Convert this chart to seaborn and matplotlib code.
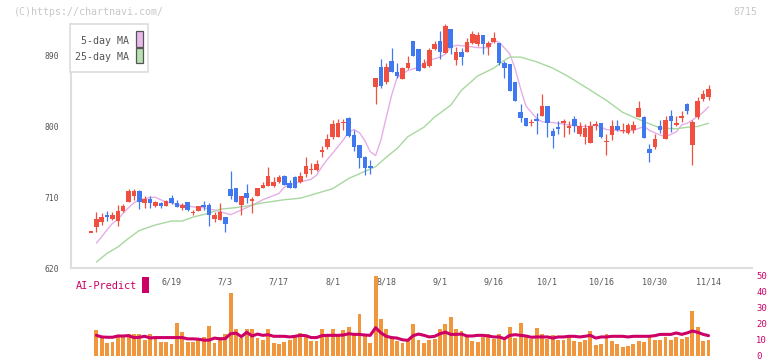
import matplotlib
matplotlib.use("Agg")
import matplotlib.pyplot as plt
import matplotlib.patches as mpatches
import seaborn as sns
import numpy as np

# daily candles (index 0 .. 115)
opens = [666, 673, 679, 688, 683, 680, 693, 704, 712, 718, 703, 708, 699, 703, 699, 709, 703, 696, 704, 690,
         693, 700, 700, 682, 681, 685, 721, 722, 700, 716, 705, 712, 722, 725, 725, 729, 737, 728, 736, 730,
         740, 745, 745, 767, 774, 787, 787, 804, 811, 789, 777, 761, 749, 850, 875, 857, 883, 869, 860, 874,
         909, 898, 874, 877, 898, 909, 893, 924, 884, 894, 895, 906, 904, 916, 901, 907, 906, 881, 879, 856,
         818, 811, 804, 810, 813, 826, 794, 799, 805, 798, 809, 790, 787, 779, 800, 804, 780, 789, 801, 794,
         792, 796, 812, 812, 771, 774, 800, 784, 813, 802, 811, 828, 777, 812, 835, 838]
highs = [666, 691, 690, 693, 692, 700, 702, 721, 721, 719, 712, 712, 706, 704, 707, 713, 707, 703, 704, 694,
         699, 706, 703, 691, 703, 685, 744, 722, 712, 727, 711, 722, 729, 748, 736, 739, 739, 732, 737, 742,
         761, 753, 757, 775, 791, 808, 809, 809, 812, 795, 777, 763, 757, 862, 885, 881, 900, 880, 876, 890,
         909, 898, 886, 899, 909, 921, 930, 924, 901, 899, 912, 921, 920, 916, 909, 920, 906, 883, 879, 856,
         828, 811, 809, 817, 841, 826, 798, 807, 809, 807, 813, 806, 803, 807, 807, 804, 791, 808, 808, 805,
         805, 807, 832, 813, 778, 791, 808, 813, 821, 813, 820, 830, 808, 838, 846, 852]
lows = [666, 666, 675, 680, 681, 674, 692, 704, 707, 695, 697, 697, 698, 697, 699, 701, 698, 694, 693, 687,
        693, 694, 674, 679, 681, 666, 708, 704, 687, 703, 690, 712, 722, 725, 723, 728, 726, 722, 722, 728,
        736, 740, 744, 761, 772, 784, 787, 795, 787, 769, 747, 739, 740, 828, 849, 854, 869, 862, 860, 873,
        889, 870, 874, 875, 897, 886, 893, 892, 878, 878, 894, 905, 902, 892, 891, 906, 878, 862, 845, 832,
        806, 800, 801, 790, 813, 786, 773, 790, 787, 791, 793, 788, 778, 779, 795, 785, 764, 783, 794, 792,
        791, 792, 812, 785, 755, 771, 792, 784, 793, 800, 806, 816, 751, 810, 832, 834]
closes = [666, 682, 685, 685, 688, 693, 699, 718, 718, 704, 708, 703, 704, 699, 705, 703, 698, 700, 694, 691,
          699, 698, 688, 688, 691, 676, 712, 704, 712, 709, 708, 722, 726, 737, 730, 736, 726, 722, 722, 737,
          750, 746, 752, 770, 784, 803, 805, 805, 788, 774, 760, 747, 748, 862, 851, 875, 869, 864, 874, 881,
          890, 870, 881, 897, 904, 894, 927, 900, 894, 888, 907, 917, 916, 904, 906, 912, 880, 874, 845, 832,
          811, 801, 805, 807, 826, 804, 788, 797, 807, 800, 801, 800, 798, 800, 803, 786, 781, 800, 796, 795,
          802, 802, 824, 785, 766, 784, 795, 808, 807, 805, 813, 820, 806, 832, 841, 847]

# moving averages
ma5_idx = [1, 2, 3, 4, 5, 6, 7, 8, 9, 10, 11, 12, 13, 14, 15, 16, 17, 18, 19, 20, 21, 22, 23, 24, 25, 26,
           28, 30, 32, 35, 36, 38, 41, 42, 43, 44, 45, 47, 48, 49, 50, 51, 52, 53, 54, 55, 56, 57, 59, 61,
           63, 65, 66, 67, 68, 70, 72, 74, 75, 76, 78, 79, 80, 81, 83, 84, 86, 87, 89, 91, 93, 94, 96, 98,
           99, 101, 103, 104, 106, 107, 109, 110, 111, 112, 114, 115]
ma5_val = [652, 660, 669, 677, 682, 690, 697, 703, 707, 708, 710, 710, 707, 704, 703, 701, 700, 699, 698, 697,
           697, 695, 694, 692, 690, 688, 694, 700, 707, 715, 723, 728, 733, 738, 749, 758, 766, 783, 793, 796,
           792, 782, 768, 763, 783, 812, 840, 862, 871, 875, 884, 888, 892, 901, 903, 902, 900, 900, 909, 907,
           892, 873, 848, 826, 810, 806, 805, 804, 802, 800, 800, 802, 796, 795, 794, 795, 800, 795, 789, 787,
           793, 802, 804, 808, 818, 825]
ma25_idx = [1, 3, 5, 7, 9, 12, 15, 17, 19, 22, 24, 27, 29, 32, 34, 36, 39, 41, 45, 48, 53, 55, 57, 59, 62,
            64, 67, 69, 72, 75, 77, 78, 80, 83, 86, 89, 93, 96, 99, 103, 106, 109, 111, 113, 115]
ma25_val = [628, 639, 647, 658, 668, 675, 680, 680, 685, 690, 695, 697, 699, 703, 705, 707, 709, 713, 721, 734,
            749, 761, 772, 787, 799, 812, 827, 846, 864, 874, 884, 888, 888, 882, 874, 863, 846, 833, 818, 806,
            798, 797, 799, 800, 804]

# lower panel (index 1 .. 115)
volume = [16.1, 11.6, 7.8, 8.4, 12.2, 11.6, 13.6, 13.2, 13.2, 9.9, 13.2, 11.6, 8.4, 8.4, 7.0, 20.3, 14.7, 8.4,
          8.4, 9.9, 11.6, 18.2, 7.8, 11.6, 13.6, 39.1, 16.8, 11.2, 16.8, 16.8, 11.2, 9.5, 16.8, 7.8, 7.4, 8.4,
          9.5, 11.6, 14.1, 11.6, 9.1, 9.1, 16.8, 12.6, 16.8, 12.2, 16.1, 17.8, 13.6, 25.7, 13.2, 7.8, 49.5, 23.0,
          16.8, 11.6, 9.1, 7.8, 10.5, 19.5, 9.9, 7.8, 9.9, 10.5, 16.8, 19.5, 24.1, 16.8, 15.3, 11.6, 9.1, 8.4,
          11.6, 13.2, 10.5, 13.2, 10.5, 17.8, 11.2, 20.3, 12.6, 10.5, 17.4, 13.2, 10.5, 12.6, 9.5, 9.5, 11.6, 9.1,
          8.4, 9.5, 15.3, 6.8, 7.0, 13.2, 9.1, 7.0, 5.3, 5.9, 7.0, 9.1, 8.4, 11.6, 9.9, 9.5, 11.6, 9.9, 11.6,
          10.5, 11.6, 27.8, 17.8, 9.1, 9.9]
ai_predict = [12.6, 11.6, 11.4, 11.4, 12.2, 12.2, 12.4, 11.2, 11.4, 12.0, 11.0, 11.2, 11.2, 11.2, 11.2, 11.2,
              11.2, 10.4, 10.4, 10.2, 9.6, 9.6, 10.9, 10.4, 10.6, 13.6, 14.0, 11.8, 14.5, 12.2, 13.4, 12.6,
              13.0, 12.0, 12.0, 12.0, 11.6, 12.0, 12.6, 12.4, 11.2, 11.2, 12.4, 12.6, 12.6, 12.6, 12.8, 13.6,
              13.2, 13.2, 12.8, 12.6, 17.4, 14.1, 12.0, 11.2, 10.9, 9.8, 9.5, 12.4, 13.4, 12.6, 11.6, 12.0,
              13.6, 14.6, 13.2, 13.2, 13.4, 12.2, 12.2, 12.6, 12.6, 12.2, 11.6, 11.6, 10.5, 12.6, 13.0, 12.6,
              12.2, 11.4, 11.6, 11.6, 11.6, 10.9, 11.6, 11.6, 12.0, 12.0, 11.6, 12.0, 12.6, 10.9, 11.6, 11.6,
              12.0, 12.0, 12.0, 11.6, 12.0, 12.0, 12.0, 12.0, 12.4, 13.2, 13.2, 13.2, 14.1, 13.2, 14.1, 15.3,
              14.5, 13.2, 12.4]

date_idx = [15, 25, 35, 45, 55, 65, 75, 85, 95, 105, 115]
date_labels = ["6/19", "7/3", "7/17", "8/1", "8/18", "9/1", "9/16", "10/1", "10/16", "10/30", "11/14"]

RED = "#EF5040"
BLUE = "#4078F0"
PINK = "#E6AEE6"
GREEN = "#A8D8A0"
ORANGE = "#F0963C"
MAG = "#CC0066"
GRID = "#DDDDDD"
TXT = "#555555"

sns.set_style("white")
plt.rcParams["font.family"] = ["DejaVu Sans Mono", "DejaVu Sans"]

fig = plt.figure(figsize=(7.72, 3.61), dpi=100)
ax = fig.add_axes([0.0920, 0.2568, 0.8821, 0.6767])
ax2 = fig.add_axes([0.0920, 0.0152, 0.8821, 0.2368])
xmin, xmax = -3.72, 123.1

# candles
x = np.arange(len(closes))
o = np.array(opens, dtype=float)
c = np.array(closes, dtype=float)
cols = np.where(c >= o, RED, BLUE)
ax.vlines(x, lows, highs, colors=cols, lw=0.9, zorder=3)
h = np.maximum(np.abs(c - o), 1.4)
bot = np.where(np.abs(c - o) < 1.4, (o + c) / 2 - 0.7, np.minimum(o, c))
ax.bar(x, h, bottom=bot, width=0.85, color=cols, linewidth=0, zorder=4)

sns.lineplot(x=ma5_idx, y=ma5_val, ax=ax, color=PINK, lw=1.0, zorder=2)
sns.lineplot(x=ma25_idx, y=ma25_val, ax=ax, color=GREEN, lw=1.0, zorder=2)

ax.set_xlim(xmin, xmax)
ax.set_ylim(620, 930)
ax.set_xlabel("")
ax.set_ylabel("")
ax.set_yticks([620, 710, 800, 890])
ax.set_xticks(np.linspace(xmin, xmax, 12)[1:])
ax.tick_params(axis="y", length=4.3, width=1.1, color=GRID, pad=4.3, labelsize=5.8, labelcolor=TXT)
ax.tick_params(axis="x", direction="inout", length=6, width=1.1, color=GRID, labelbottom=False)
for s in ["top", "right"]:
    ax.spines[s].set_visible(False)
for s in ["left", "bottom"]:
    ax.spines[s].set_color(GRID)
    ax.spines[s].set_linewidth(1.5)

# lower panel
vx = np.arange(1, len(closes))
ax2.bar(vx, volume, width=0.72, color=ORANGE, linewidth=0, zorder=2)
sns.lineplot(x=vx, y=ai_predict, ax=ax2, color=MAG, lw=2.2, zorder=3)
for i, lab in zip(date_idx, date_labels):
    ax2.text(i, 45.9, lab, ha="center", va="center", fontsize=6, color=TXT, zorder=1)
ax2.set_xlim(xmin, xmax)
ax2.set_ylim(0, 53.4)
ax2.set_xlabel("")
ax2.set_ylabel("")
ax2.patch.set_visible(False)
for s in ax2.spines.values():
    s.set_visible(False)
ax2.set_xticks([])
ax2.yaxis.tick_right()
ax2.set_yticks([0, 10, 20, 30, 40, 50])
ax2.tick_params(axis="y", length=0, pad=3, labelsize=6.4, labelcolor=MAG)

# legend box and labels
fig.add_artist(mpatches.Rectangle((0.0907, 0.8006), 0.1010, 0.1329, transform=fig.transFigure,
                                  facecolor="white", edgecolor=GRID, lw=1.2, zorder=5))
fig.add_artist(mpatches.Rectangle((0.1762, 0.8698), 0.00907, 0.0443, transform=fig.transFigure,
                                  facecolor="#EAB8EA", edgecolor=TXT, lw=0.9, zorder=6))
fig.add_artist(mpatches.Rectangle((0.1762, 0.8255), 0.00907, 0.0416, transform=fig.transFigure,
                                  facecolor="#B8E0B0", edgecolor=TXT, lw=0.9, zorder=6))
fig.text(0.1677, 0.8864, "5-day MA", ha="right", va="center", fontsize=7.2, color=TXT, zorder=6)
fig.text(0.1677, 0.8421, "25-day MA", ha="right", va="center", fontsize=7.2, color=TXT, zorder=6)

fig.text(0.0181, 0.9668, "(C)https://chartnavi.com/", ha="left", va="center", fontsize=7.2, color="#C8C8C8")
fig.text(0.9806, 0.9668, "8715", ha="right", va="center", fontsize=7.2, color="#C8C8C8")

fig.text(0.0984, 0.2078, "AI-Predict", ha="left", va="center", fontsize=7.4, color=MAG)
fig.add_artist(mpatches.Rectangle((0.1839, 0.1884), 0.00907, 0.0443, transform=fig.transFigure,
                                  facecolor=MAG, edgecolor="none"))

fig.savefig("out.png", dpi=100)
